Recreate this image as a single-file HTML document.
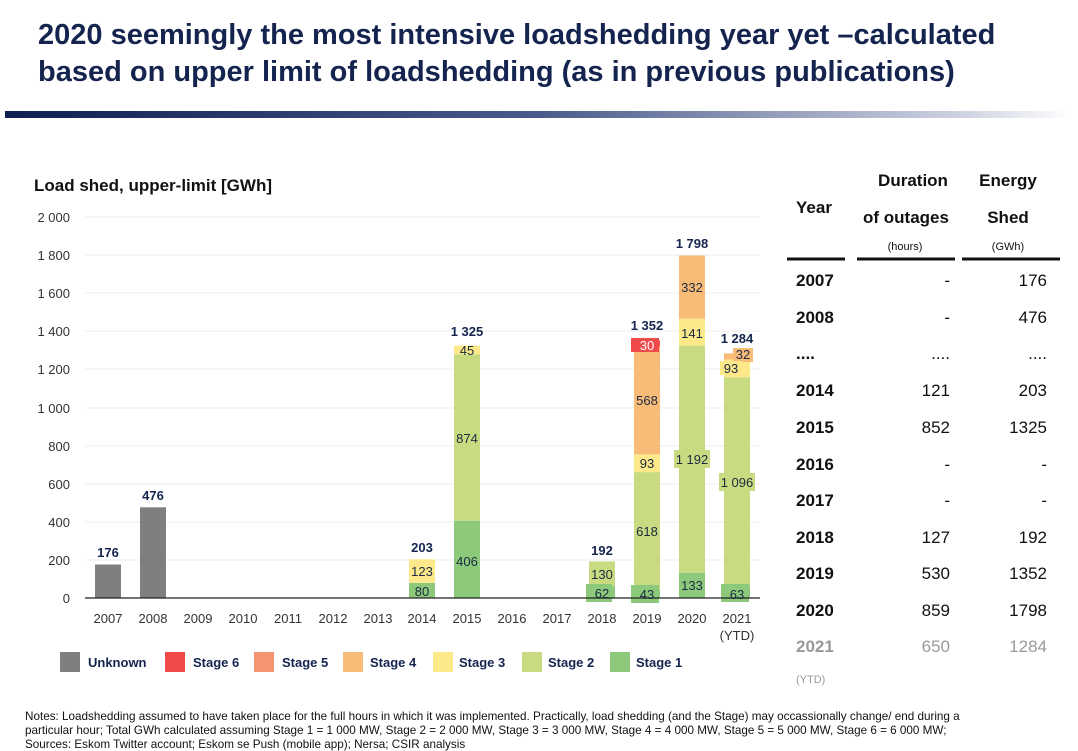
<!DOCTYPE html>
<html><head><meta charset="utf-8"><style>
body{margin:0;width:1078px;height:751px;background:#fff;overflow:hidden;font-family:"Liberation Sans",sans-serif;position:relative}
.t{position:absolute;white-space:nowrap}
</style></head><body>
<div class="t" style="left:38px;top:17px;font-size:29px;font-weight:bold;color:#14244f;line-height:37px">2020 seemingly the most intensive loadshedding year yet –calculated<br>based on upper limit of loadshedding (as in previous publications)</div>
<div style="position:absolute;left:5px;top:111px;width:1068px;height:7px;background:linear-gradient(to right,#0f1f4f,#4a5a8a 50%,#cfd4e2 90%,#fff)"></div>
<svg width="1078" height="751" style="position:absolute;left:0;top:0" font-family="Liberation Sans, sans-serif">
<text x="34" y="191" font-size="17" font-weight="bold" fill="#111">Load shed, upper-limit [GWh]</text>
<g font-size="13" fill="#333" text-anchor="end">
<text x="70" y="603">0</text><text x="70" y="565">200</text><text x="70" y="527">400</text><text x="70" y="489">600</text><text x="70" y="451">800</text><text x="70" y="413">1 000</text><text x="70" y="374">1 200</text><text x="70" y="336">1 400</text><text x="70" y="298">1 600</text><text x="70" y="260">1 800</text><text x="70" y="222">2 000</text>
</g>
<g stroke="#ececec" stroke-width="1">
<line x1="85" x2="760" y1="560" y2="560"/><line x1="85" x2="760" y1="522" y2="522"/><line x1="85" x2="760" y1="484" y2="484"/><line x1="85" x2="760" y1="446" y2="446"/><line x1="85" x2="760" y1="408" y2="408"/><line x1="85" x2="760" y1="369" y2="369"/><line x1="85" x2="760" y1="331" y2="331"/><line x1="85" x2="760" y1="293" y2="293"/><line x1="85" x2="760" y1="255" y2="255"/><line x1="85" x2="760" y1="217" y2="217"/>
</g>
<rect x="95" y="564.5" width="26" height="33.5" fill="#7f7f7f"/>
<rect x="140" y="507.3" width="26" height="90.7" fill="#7f7f7f"/>
<rect x="409" y="582.8" width="26" height="15.2" fill="#8cc97a"/>
<rect x="409" y="559.3" width="26" height="23.5" fill="#fde98a"/>
<rect x="454" y="520.7" width="26" height="77.3" fill="#8cc97a"/>
<rect x="454" y="354.2" width="26" height="166.5" fill="#c9db80"/>
<rect x="454" y="345.6" width="26" height="8.6" fill="#fde98a"/>
<rect x="589" y="586.2" width="26" height="11.8" fill="#8cc97a"/>
<rect x="589" y="561.4" width="26" height="24.8" fill="#c9db80"/>
<rect x="634" y="589.8" width="26" height="8.2" fill="#8cc97a"/>
<rect x="634" y="472.1" width="26" height="117.7" fill="#c9db80"/>
<rect x="634" y="454.4" width="26" height="17.7" fill="#fde98a"/>
<rect x="634" y="346.2" width="26" height="108.2" fill="#f9bc78"/>
<rect x="634" y="340.4" width="26" height="5.8" fill="#f04a4a"/>
<rect x="631" y="338" width="28" height="14" fill="#f04a4a"/>
<rect x="679" y="572.7" width="26" height="25.3" fill="#8cc97a"/>
<rect x="679" y="345.6" width="26" height="227.1" fill="#c9db80"/>
<rect x="679" y="318.7" width="26" height="26.9" fill="#fde98a"/>
<rect x="679" y="255.5" width="26" height="63.2" fill="#f9bc78"/>
<rect x="724" y="586" width="26" height="12" fill="#8cc97a"/>
<rect x="724" y="377.2" width="26" height="208.8" fill="#c9db80"/>
<rect x="724" y="359.5" width="26" height="17.7" fill="#fde98a"/>
<rect x="724" y="353.4" width="26" height="6.1" fill="#f9bc78"/>
<rect x="733" y="348" width="20" height="14" fill="#f9bc78"/>
<rect x="720" y="361" width="22" height="14" fill="#fde98a"/>
<rect x="719" y="473" width="36" height="18" fill="#c9db80"/>
<rect x="674" y="450" width="36" height="18" fill="#c9db80"/>
<rect x="631" y="585" width="28" height="18" fill="#8cc97a"/>
<rect x="586" y="584" width="26" height="18" fill="#8cc97a"/>
<rect x="721" y="584" width="28" height="18" fill="#8cc97a"/>
<line x1="85" x2="760" y1="598" y2="598" stroke="#222" stroke-width="1.2"/>
<g font-size="13" fill="#1a2a40" text-anchor="middle">
<text x="422" y="576">123</text><text x="422" y="596">80</text>
<text x="467" y="355">45</text><text x="467" y="443">874</text><text x="467" y="566">406</text>
<text x="602" y="579">130</text><text x="602" y="598">62</text>
<text x="647" y="350" fill="#fff">30</text><text x="647" y="405">568</text><text x="647" y="468">93</text><text x="647" y="536">618</text><text x="647" y="599">43</text>
<text x="692" y="292">332</text><text x="692" y="338">141</text><text x="692" y="464">1 192</text><text x="692" y="590">133</text>
<text x="743" y="359">32</text><text x="731" y="373">93</text><text x="737" y="487">1 096</text><text x="737" y="599">63</text>
</g>
<g font-size="13" font-weight="bold" fill="#14244f" text-anchor="middle">
<text x="108" y="557">176</text><text x="153" y="500">476</text><text x="422" y="552">203</text><text x="467" y="336">1 325</text><text x="602" y="555">192</text><text x="647" y="330">1 352</text><text x="692" y="248">1 798</text><text x="737" y="343">1 284</text>
</g>
<g font-size="13" fill="#333" text-anchor="middle">
<text x="108" y="623">2007</text><text x="153" y="623">2008</text><text x="198" y="623">2009</text><text x="243" y="623">2010</text><text x="288" y="623">2011</text><text x="333" y="623">2012</text><text x="378" y="623">2013</text><text x="422" y="623">2014</text><text x="467" y="623">2015</text><text x="512" y="623">2016</text><text x="557" y="623">2017</text><text x="602" y="623">2018</text><text x="647" y="623">2019</text><text x="692" y="623">2020</text><text x="737" y="623">2021</text><text x="737" y="640">(YTD)</text>
</g>
<g font-size="13" font-weight="bold" fill="#14244f">
<rect x="60" y="652" width="20" height="20" fill="#7f7f7f"/><text x="88" y="667">Unknown</text>
<rect x="165" y="652" width="20" height="20" fill="#f04a4a"/><text x="193" y="667">Stage 6</text>
<rect x="254" y="652" width="20" height="20" fill="#f79470"/><text x="282" y="667">Stage 5</text>
<rect x="343" y="652" width="20" height="20" fill="#f9bc78"/><text x="370" y="667">Stage 4</text>
<rect x="433" y="652" width="20" height="20" fill="#fde98a"/><text x="459" y="667">Stage 3</text>
<rect x="522" y="652" width="20" height="20" fill="#c9db80"/><text x="548" y="667">Stage 2</text>
<rect x="610" y="652" width="20" height="20" fill="#8cc97a"/><text x="636" y="667">Stage 1</text>
</g>
<g font-size="17" font-weight="bold" fill="#111">
<text x="814" y="213" text-anchor="middle">Year</text>
<text x="913" y="186" text-anchor="middle">Duration</text><text x="906" y="223" text-anchor="middle">of outages</text>
<text x="1008" y="186" text-anchor="middle">Energy</text><text x="1008" y="223" text-anchor="middle">Shed</text>
</g>
<g font-size="11" fill="#111" text-anchor="middle"><text x="905" y="250">(hours)</text><text x="1008" y="250">(GWh)</text></g>
<g stroke="#111" stroke-width="3"><line x1="787" x2="845" y1="259" y2="259"/><line x1="857" x2="955" y1="259" y2="259"/><line x1="962" x2="1060" y1="259" y2="259"/></g>
<g font-size="17" fill="#111">
<g font-weight="bold"><text x="796" y="286">2007</text><text x="796" y="323">2008</text><text x="796" y="359">....</text><text x="796" y="396">2014</text><text x="796" y="433">2015</text><text x="796" y="470">2016</text><text x="796" y="506">2017</text><text x="796" y="543">2018</text><text x="796" y="579">2019</text><text x="796" y="616">2020</text><text x="796" y="652" fill="#999">2021</text></g>
<g text-anchor="end"><text x="950" y="286">-</text><text x="950" y="323">-</text><text x="950" y="359">....</text><text x="950" y="396">121</text><text x="950" y="433">852</text><text x="950" y="470">-</text><text x="950" y="506">-</text><text x="950" y="543">127</text><text x="950" y="579">530</text><text x="950" y="616">859</text><text x="950" y="652" fill="#999">650</text>
<text x="1047" y="286">176</text><text x="1047" y="323">476</text><text x="1047" y="359">....</text><text x="1047" y="396">203</text><text x="1047" y="433">1325</text><text x="1047" y="470">-</text><text x="1047" y="506">-</text><text x="1047" y="543">192</text><text x="1047" y="579">1352</text><text x="1047" y="616">1798</text><text x="1047" y="652" fill="#999">1284</text></g>
</g>
<text x="796" y="683" font-size="11" fill="#999">(YTD)</text>
<g font-size="11.7" fill="#111"><text x="25" y="720">Notes: Loadshedding assumed to have taken place for the full hours in which it was implemented.  Practically, load shedding (and the Stage) may occassionally change/ end during a</text><text x="25" y="734">particular hour; Total GWh calculated assuming Stage 1 = 1 000 MW, Stage 2 = 2 000 MW, Stage 3 = 3 000 MW, Stage 4 = 4 000 MW, Stage 5 = 5 000 MW, Stage 6 = 6 000 MW;</text><text x="25" y="748">Sources: Eskom Twitter account; Eskom se Push (mobile app); Nersa; CSIR analysis</text></g>
</svg>
</body></html>
